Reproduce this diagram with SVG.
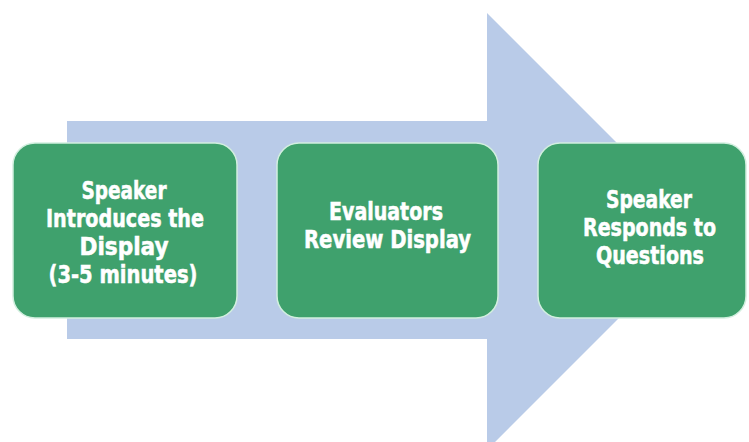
<svg xmlns="http://www.w3.org/2000/svg" width="749" height="442" viewBox="0 0 749 442">
  <style>
    .box { fill: #3fa16d; stroke: #d2efdf; stroke-width: 1.5; }
    .lbl { fill: #ffffff; stroke: #ffffff; stroke-width: 0.5; font-family: "DejaVu Sans Condensed", "DejaVu Sans", sans-serif; font-weight: bold; font-size: 24px; text-anchor: middle; }
  </style>
  <rect width="749" height="442" fill="#ffffff"/>
  <g id="connectors">
    <path d="M67,121 L487,121 L487,13 L705.5,231.5 L487,450 L487,339 L67,339 Z" fill="#b9cbe8"/>
  </g>
  <g id="node1">
    <rect class="box" x="13" y="143" width="224" height="175" rx="22" ry="22"/>
    <text class="lbl" x="124" y="199" textLength="85" lengthAdjust="spacingAndGlyphs">Speaker</text>
    <text class="lbl" x="125" y="227" textLength="158" lengthAdjust="spacingAndGlyphs">Introduces the</text>
    <text class="lbl" x="124" y="255" textLength="89" lengthAdjust="spacingAndGlyphs">Display</text>
    <text class="lbl" x="123" y="283" textLength="149" lengthAdjust="spacingAndGlyphs">(3-5 minutes)</text>
  </g>
  <g id="node2">
    <rect class="box" x="277" y="143" width="221" height="175" rx="22" ry="22"/>
    <text class="lbl" x="386" y="220" textLength="114" lengthAdjust="spacingAndGlyphs">Evaluators</text>
    <text class="lbl" x="387.5" y="248" textLength="167" lengthAdjust="spacingAndGlyphs">Review Display</text>
  </g>
  <g id="node3">
    <rect class="box" x="538" y="143" width="208" height="175" rx="22" ry="22"/>
    <text class="lbl" x="649" y="208" textLength="86" lengthAdjust="spacingAndGlyphs">Speaker</text>
    <text class="lbl" x="649.5" y="236" textLength="133" lengthAdjust="spacingAndGlyphs">Responds to</text>
    <text class="lbl" x="650" y="264" textLength="108" lengthAdjust="spacingAndGlyphs">Questions</text>
  </g>
</svg>
